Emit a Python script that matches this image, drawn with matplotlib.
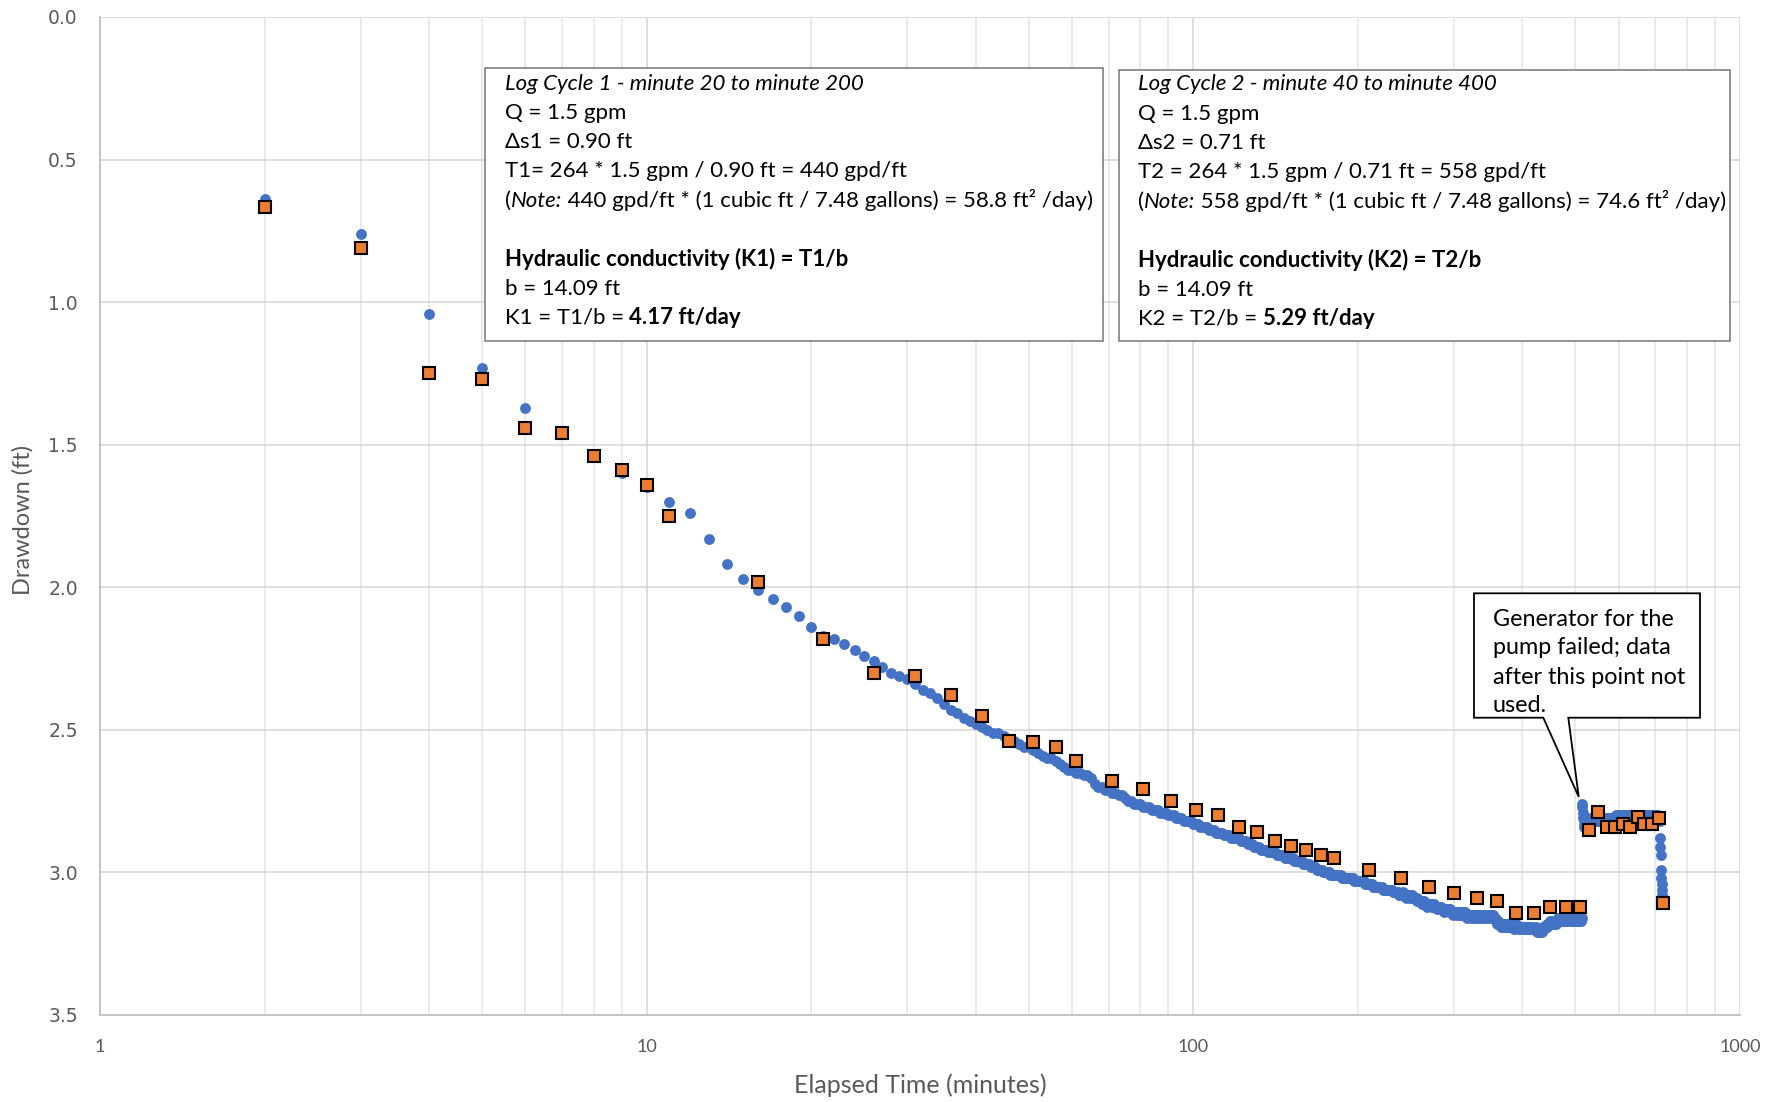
import numpy as np
import matplotlib
matplotlib.use("Agg")
import matplotlib.pyplot as plt
from matplotlib.patches import Rectangle, Polygon
from matplotlib.text import Annotation

# ---------------- data ----------------
# measured drawdown (ft), one reading per minute starting at minute 2
blue_start = 2
blue_vals = [
    0.64, 0.76, 1.04, 1.23, 1.37, 1.46, 1.54, 1.60, 1.65,
    1.70, 1.74, 1.83, 1.92, 1.97, 2.01, 2.04, 2.07, 2.10, 2.14,
    2.17, 2.18, 2.20, 2.22, 2.24, 2.26, 2.28, 2.30, 2.31, 2.32,
    2.34, 2.36, 2.37, 2.39, 2.41, 2.43, 2.44, 2.46, 2.47, 2.48,
    2.49, 2.50, 2.51, 2.51, 2.52, 2.54, 2.54, 2.55, 2.56, 2.56,
    2.57, 2.58, 2.59, 2.60, 2.60, 2.61, 2.62, 2.63, 2.64, 2.64,
    2.65, 2.65, 2.66, 2.66, 2.67, 2.69, 2.70, 2.70, 2.71, 2.71,
    2.72, 2.72, 2.73, 2.73, 2.74, 2.75, 2.75, 2.76, 2.76, 2.76,
    2.77, 2.77, 2.77, 2.78, 2.78, 2.78, 2.79, 2.79, 2.79, 2.80,
    2.80, 2.80, 2.81, 2.81, 2.81, 2.82, 2.82, 2.82, 2.82, 2.83,
    2.83, 2.83, 2.84, 2.84, 2.84, 2.84, 2.85, 2.85, 2.85, 2.86,
    2.86, 2.86, 2.86, 2.87, 2.87, 2.87, 2.88, 2.88, 2.88, 2.88,
    2.88, 2.89, 2.89, 2.89, 2.89, 2.90, 2.90, 2.90, 2.91, 2.91,
    2.91, 2.91, 2.92, 2.92, 2.92, 2.92, 2.93, 2.93, 2.93, 2.93,
    2.93, 2.94, 2.94, 2.94, 2.94, 2.94, 2.95, 2.95, 2.95, 2.95,
    2.95, 2.95, 2.96, 2.96, 2.96, 2.96, 2.96, 2.96, 2.97, 2.97,
    2.97, 2.97, 2.97, 2.98, 2.98, 2.98, 2.98, 2.99, 2.99, 2.99,
    2.99, 2.99, 3.00, 3.00, 3.00, 3.00, 3.00, 3.01, 3.01, 3.01,
    3.01, 3.01, 3.01, 3.01, 3.01, 3.01, 3.02, 3.02, 3.02, 3.02,
    3.02, 3.02, 3.02, 3.02, 3.02, 3.02, 3.03, 3.03, 3.03, 3.03,
    3.03, 3.03, 3.03, 3.03, 3.03, 3.04, 3.04, 3.04, 3.04, 3.04,
    3.04, 3.04, 3.05, 3.05, 3.05, 3.05, 3.05, 3.05, 3.05, 3.05,
    3.05, 3.06, 3.06, 3.06, 3.06, 3.06, 3.06, 3.06, 3.06, 3.06,
    3.06, 3.07, 3.07, 3.07, 3.07, 3.07, 3.07, 3.08, 3.08, 3.08,
    3.08, 3.07, 3.08, 3.08, 3.09, 3.08, 3.08, 3.08, 3.09, 3.08,
    3.08, 3.09, 3.09, 3.09, 3.09, 3.10, 3.09, 3.10, 3.10, 3.10,
    3.10, 3.11, 3.10, 3.10, 3.11, 3.11, 3.11, 3.12, 3.11, 3.11,
    3.11, 3.11, 3.12, 3.12, 3.12, 3.11, 3.12, 3.12, 3.13, 3.12,
    3.12, 3.12, 3.13, 3.12, 3.13, 3.13, 3.13, 3.14, 3.13, 3.13,
    3.13, 3.13, 3.14, 3.13, 3.13, 3.14, 3.14, 3.14, 3.15, 3.14,
    3.14, 3.14, 3.15, 3.14, 3.14, 3.14, 3.15, 3.14, 3.14, 3.15,
    3.14, 3.15, 3.15, 3.14, 3.15, 3.15, 3.16, 3.15, 3.15, 3.15,
    3.15, 3.16, 3.15, 3.15, 3.15, 3.16, 3.15, 3.15, 3.16, 3.15,
    3.15, 3.15, 3.16, 3.15, 3.15, 3.15, 3.16, 3.15, 3.15, 3.15,
    3.15, 3.16, 3.15, 3.15, 3.15, 3.16, 3.15, 3.15, 3.16, 3.15,
    3.15, 3.15, 3.16, 3.15, 3.16, 3.16, 3.16, 3.17, 3.17, 3.18,
    3.17, 3.18, 3.18, 3.18, 3.19, 3.18, 3.18, 3.19, 3.18, 3.18,
    3.18, 3.19, 3.18, 3.19, 3.19, 3.18, 3.19, 3.19, 3.19, 3.18,
    3.19, 3.19, 3.18, 3.19, 3.19, 3.20, 3.19, 3.19, 3.18, 3.19,
    3.19, 3.19, 3.20, 3.19, 3.19, 3.19, 3.20, 3.19, 3.19, 3.19,
    3.19, 3.20, 3.19, 3.19, 3.20, 3.19, 3.19, 3.20, 3.19, 3.20,
    3.19, 3.20, 3.20, 3.19, 3.20, 3.20, 3.19, 3.20, 3.20, 3.20,
    3.20, 3.20, 3.19, 3.20, 3.21, 3.20, 3.20, 3.21, 3.20, 3.20,
    3.21, 3.20, 3.20, 3.21, 3.20, 3.20, 3.19, 3.20, 3.19, 3.19,
    3.19, 3.19, 3.18, 3.19, 3.18, 3.18, 3.18, 3.18, 3.17, 3.18,
    3.18, 3.17, 3.18, 3.17, 3.17, 3.18, 3.17, 3.17, 3.17, 3.18,
    3.17, 3.17, 3.17, 3.16, 3.17, 3.17, 3.17, 3.16, 3.17, 3.17,
    3.16, 3.17, 3.16, 3.17, 3.17, 3.16, 3.16, 3.17, 3.16, 3.16,
    3.17, 3.16, 3.16, 3.17, 3.16, 3.16, 3.16, 3.17, 3.16, 3.16,
    3.16, 3.17, 3.16, 3.16, 3.16, 3.17, 3.16, 3.16, 3.16, 3.17,
    3.16, 3.16, 3.17, 3.16, 3.16, 3.16, 3.17, 3.16, 3.16, 3.17,
    3.16, 3.17, 3.16,
    # generator failure: recovery, then restart
    2.76, 2.77, 2.79, 2.81, 2.83, 2.84, 2.83,
    2.82, 2.83, 2.82, 2.82, 2.83, 2.82, 2.82, 2.82, 2.83, 2.82,
    2.82, 2.82, 2.81, 2.82, 2.82, 2.82, 2.81, 2.82, 2.82, 2.81,
    2.81, 2.82, 2.81, 2.81, 2.82, 2.81, 2.81, 2.82, 2.81, 2.81,
    2.81, 2.82, 2.81, 2.81, 2.81, 2.82, 2.81, 2.81, 2.81, 2.82,
    2.81, 2.82, 2.81, 2.81, 2.82, 2.81, 2.81, 2.81, 2.82, 2.81,
    2.81, 2.81, 2.82, 2.81, 2.81, 2.82, 2.81, 2.81, 2.81, 2.82,
    2.82, 2.81, 2.81, 2.82, 2.81, 2.81, 2.81, 2.82, 2.81, 2.81,
    2.81, 2.81, 2.80, 2.81, 2.81, 2.81, 2.80, 2.81, 2.81, 2.81,
    2.81, 2.80, 2.81, 2.81, 2.80, 2.81, 2.81, 2.81, 2.80, 2.81,
    2.80, 2.81, 2.81, 2.80, 2.81, 2.81, 2.80, 2.81, 2.80, 2.81,
    2.81, 2.80, 2.81, 2.80, 2.80, 2.81, 2.80, 2.81, 2.80, 2.80,
    2.81, 2.80, 2.80, 2.81, 2.80, 2.80, 2.80, 2.81, 2.80, 2.80,
    2.80, 2.81, 2.80, 2.80, 2.80, 2.81, 2.80, 2.80, 2.81, 2.80,
    2.80, 2.80, 2.81, 2.80, 2.80, 2.81, 2.80, 2.80, 2.80, 2.81,
    2.80, 2.80, 2.81, 2.80, 2.80, 2.81, 2.80, 2.81, 2.80, 2.80,
    2.81, 2.80, 2.81, 2.80, 2.80, 2.81, 2.80, 2.81, 2.81, 2.80,
    2.81, 2.80, 2.81, 2.81, 2.80, 2.81, 2.81, 2.80, 2.81, 2.81,
    2.81, 2.80, 2.81, 2.81, 2.80, 2.81, 2.81, 2.80, 2.81, 2.80,
    2.81, 2.80, 2.81, 2.81, 2.80, 2.81, 2.81, 2.80, 2.81, 2.81,
    2.81, 2.81,
    2.82, 2.88, 2.91, 2.94, 2.99, 3.02, 3.04, 3.06, 3.08, 3.09, 3.11,
]

# selected readings (orange squares)
sq_t = [2, 3, 4, 5, 6, 7, 8, 9, 10, 11, 16, 21, 26, 31, 36, 41, 46, 51, 56,
        61, 71, 81, 91, 101, 111, 121, 131, 141, 151, 161, 171, 181, 210,
        240, 270, 300, 330, 360, 390, 420, 450, 480, 510, 530, 550, 570,
        590, 610, 630, 650, 668, 690, 712, 723]
sq_v = [0.668, 0.81, 1.247, 1.268, 1.44, 1.46, 1.54, 1.59, 1.64, 1.75,
        1.982, 2.18, 2.30, 2.31, 2.379, 2.45, 2.54, 2.541, 2.56, 2.608,
        2.68, 2.709, 2.749, 2.78, 2.80, 2.839, 2.859, 2.889, 2.909, 2.92,
        2.938, 2.95, 2.99, 3.02, 3.05, 3.072, 3.09, 3.10, 3.142, 3.142,
        3.122, 3.122, 3.122, 2.85, 2.787, 2.839, 2.839, 2.83, 2.839, 2.807,
        2.83, 2.83, 2.81, 3.108]

x_ticks = [1, 10, 100, 1000]
x_tick_labels = ["1", "10", "100", "1000"]
y_ticks = [0.0, 0.5, 1.0, 1.5, 2.0, 2.5, 3.0, 3.5]
callout_tip = (507, 2.735)

box1_lines = [
    [("Log Cycle 1 - minute 20 to minute 200", "normal", "italic")],
    [("Q = 1.5 gpm", "normal", "normal")],
    [("\u0394s1 = 0.90 ft", "normal", "normal")],
    [("T1= 264 * 1.5 gpm / 0.90 ft = 440 gpd/ft", "normal", "normal")],
    [("(", "normal", "normal"), ("Note:", "normal", "italic"),
     (" 440 gpd/ft * (1 cubic ft / 7.48 gallons) = 58.8 ft\u00b2 /day)", "normal", "normal")],
    None,
    [("Hydraulic conductivity (K1) = T1/b", "bold", "normal")],
    [("b = 14.09 ft", "normal", "normal")],
    [("K1 = T1/b = ", "normal", "normal"), ("4.17 ft/day", "bold", "normal")],
]
box2_lines = [
    [("Log Cycle 2 - minute 40 to minute 400", "normal", "italic")],
    [("Q = 1.5 gpm", "normal", "normal")],
    [("\u0394s2 = 0.71 ft", "normal", "normal")],
    [("T2 = 264 * 1.5 gpm / 0.71 ft = 558 gpd/ft", "normal", "normal")],
    [("(", "normal", "normal"), ("Note:", "normal", "italic"),
     (" 558 gpd/ft * (1 cubic ft / 7.48 gallons) = 74.6 ft\u00b2 /day)", "normal", "normal")],
    None,
    [("Hydraulic conductivity (K2) = T2/b", "bold", "normal")],
    [("b = 14.09 ft", "normal", "normal")],
    [("K2 = T2/b = ", "normal", "normal"), ("5.29 ft/day", "bold", "normal")],
]
callout_lines = ["Generator for the", "pump failed; data",
                 "after this point not", "used."]

# ---------------- figure ----------------
W, H = 1786, 1102
fig = plt.figure(figsize=(W / 100, H / 100), dpi=100)
FONT = ["Lato", "DejaVu Sans"]


def fx(px):
    return px / W


def fy(py):
    return 1 - py / H


ax = fig.add_axes([fx(100), fy(1015), fx(1740) - fx(100), fy(17) - fy(1015)])
ax.set_xscale("log")
ax.set_xlim(1, 1000)
ax.set_ylim(3.5, 0.0)

blue_t = np.arange(blue_start, blue_start + len(blue_vals))
ax.plot(blue_t, blue_vals, linestyle="none", marker="o", ms=7.8, mew=0,
        color="#4472C4", zorder=3)
ax.plot(sq_t, sq_v, linestyle="none", marker="s", ms=9.2, mew=1.5,
        markerfacecolor="#ED7D31", markeredgecolor="black", zorder=4)

ax.set_xticks(x_ticks)
ax.set_xticklabels(x_tick_labels)
ax.set_yticks(y_ticks)
ax.set_yticklabels([f"{v:.1f}" for v in y_ticks])
ax.xaxis.set_minor_locator(matplotlib.ticker.LogLocator(base=10, subs=np.arange(2, 10)))
ax.xaxis.set_minor_formatter(matplotlib.ticker.NullFormatter())
ax.tick_params(axis="both", which="both", length=0)
ax.tick_params(axis="x", pad=17, labelsize=13, labelcolor="#595959")
ax.tick_params(axis="y", pad=16, labelsize=13.5, labelcolor="#595959")
for lab in ax.get_xticklabels():
    lab.set_family(FONT)
for lab in ax.get_yticklabels():
    lab.set_family("DejaVu Sans")

ax.grid(True, which="major", color="#D4D4D4", lw=1.1)
ax.grid(True, which="minor", axis="x", color="#E4E4E4", lw=1.1)
ax.set_axisbelow(True)
for s in ["top", "right"]:
    ax.spines[s].set_visible(False)
for s in ["left", "bottom"]:
    ax.spines[s].set_color("#BFBFBF")
    ax.spines[s].set_linewidth(1.3)

ax.set_xlabel("Elapsed Time (minutes)", fontsize=18, color="#595959", family=FONT)
ax.set_ylabel("Drawdown (ft)", fontsize=17, color="#595959", family=FONT)
ax.xaxis.set_label_coords(0.5, (1015 - 1085) / 998)
ax.xaxis.label.set_va("center")
ax.yaxis.set_label_coords((23 - 100) / 1640, (1015 - 520) / 998)
ax.yaxis.label.set_va("center")

# ---------------- text boxes ----------------
def draw_box(x0, y0, x1, y1, lines, tx, ty0, dy, size):
    fig.add_artist(Rectangle((fx(x0), fy(y1)), fx(x1) - fx(x0), fy(y0) - fy(y1),
                             transform=fig.transFigure, facecolor="white",
                             edgecolor="#808080", lw=1.2, zorder=5))
    for i, parts in enumerate(lines):
        if parts is None:
            continue
        y = ty0 + i * dy
        prev = None
        for text, weight, style in parts:
            if prev is None:
                t = fig.text(fx(tx), fy(y), text, fontsize=size, weight=weight,
                             style=style, family=FONT, va="center", ha="left",
                             color="black", zorder=6)
            else:
                t = Annotation(text, xy=(1, 0), xycoords=prev, va="bottom",
                               ha="left", fontsize=size, weight=weight,
                               style=style, family=FONT, color="black", zorder=6)
                fig.add_artist(t)
            prev = t


draw_box(485, 68, 1102.6, 340.6, box1_lines, 504.6, 83.5, 29.3, 16.0)
draw_box(1118.5, 69.5, 1730, 340.6, box2_lines, 1137.9, 84.5, 29.3, 16.0)

# ---------------- callout ----------------
tip = fig.transFigure.inverted().transform(ax.transData.transform(callout_tip))
cx0, cy0, cx1, cy1 = 1474, 593.3, 1700, 717.7
poly = [(fx(cx0), fy(cy0)), (fx(cx1), fy(cy0)), (fx(cx1), fy(cy1)),
        (fx(1568.3), fy(cy1)), tuple(tip), (fx(1543.3), fy(cy1)),
        (fx(cx0), fy(cy1))]
fig.add_artist(Polygon(poly, closed=True, transform=fig.transFigure,
                       facecolor="white", edgecolor="black", lw=1.3, zorder=5))
for i, line in enumerate(callout_lines):
    fig.text(fx(1493), fy(619 + i * 29), line, fontsize=16.8, family=FONT,
             va="center", ha="left", color="black", zorder=6)

fig.savefig("out.png", dpi=100)
